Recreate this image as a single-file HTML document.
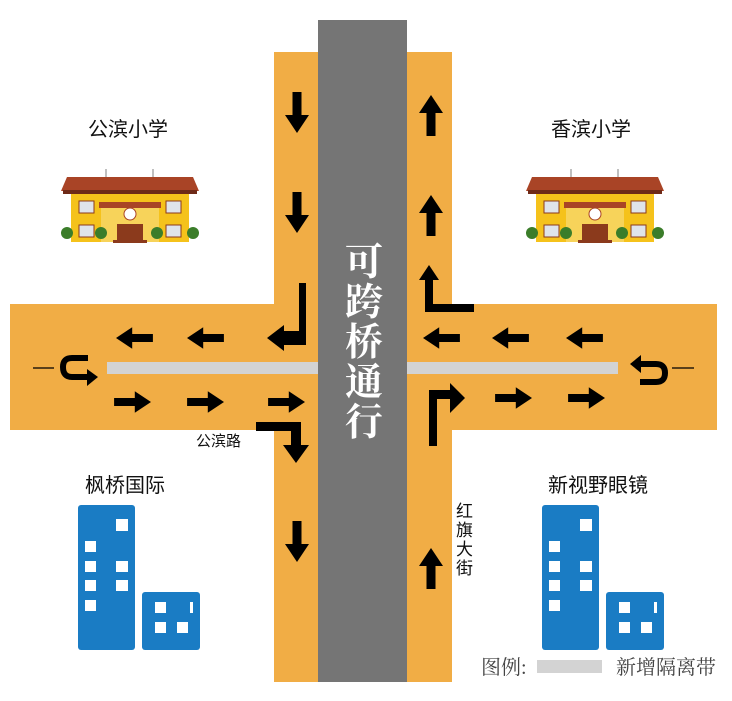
<!DOCTYPE html>
<html><head><meta charset="utf-8"><style>
html,body{margin:0;padding:0;background:#fff;width:732px;height:701px;overflow:hidden}
svg{display:block}
.l{font-family:"Liberation Sans","Noto Sans CJK SC",sans-serif;fill:#111}
.s{font-family:"Liberation Serif","Noto Serif CJK SC",serif;fill:#444}
</style></head><body>
<svg width="732" height="701" viewBox="0 0 732 701" xmlns="http://www.w3.org/2000/svg">
<defs>
 <g id="au"><polygon points="0,0 12,18 4.5,18 4.5,41 -4.5,41 -4.5,18 -12,18" fill="#000"/></g>
 <g id="school">
  <line x1="45" y1="2" x2="45" y2="34" stroke="#aaa" stroke-width="1.5"/>
  <line x1="92" y1="2" x2="92" y2="34" stroke="#aaa" stroke-width="1.5"/>
  <polygon points="6,10 132,10 138,24 0,24" fill="#a94426"/>
  <rect x="2" y="23" width="134" height="4" fill="#6e2a18"/>
  <rect x="10" y="27" width="118" height="48" fill="#f5c21b"/>
  <rect x="40" y="39" width="58" height="36" fill="#f7d35a"/>
  <rect x="38" y="35" width="62" height="6" fill="#a94426"/>
  <circle cx="69" cy="47" r="6" fill="#fff" stroke="#a94426"/>
  <rect x="56" y="57" width="26" height="17" fill="#8b3a1c"/>
  <rect x="52" y="73" width="34" height="3" fill="#8b3a1c"/>
  <rect x="18" y="34" width="15" height="12" fill="#dfe4ea" stroke="#8b3a1c"/>
  <rect x="105" y="34" width="15" height="12" fill="#dfe4ea" stroke="#8b3a1c"/>
  <rect x="18" y="58" width="15" height="12" fill="#dfe4ea" stroke="#8b3a1c"/>
  <rect x="105" y="58" width="15" height="12" fill="#dfe4ea" stroke="#8b3a1c"/>
  <circle cx="6" cy="66" r="6" fill="#3b7d2a"/><circle cx="40" cy="66" r="6" fill="#3b7d2a"/>
  <circle cx="96" cy="66" r="6" fill="#3b7d2a"/><circle cx="132" cy="66" r="6" fill="#3b7d2a"/>
 </g>
 <g id="bld" fill="#1a7cc4">
  <rect x="0" y="0" width="57" height="145" rx="3"/>
  <rect x="64" y="87" width="58" height="58" rx="3"/>
  <g fill="#fff">
   <rect x="38" y="14" width="12" height="12"/>
   <rect x="7" y="36" width="11" height="11"/><rect x="7" y="56" width="11" height="11"/><rect x="38" y="56" width="12" height="11"/>
   <rect x="7" y="75" width="11" height="11"/><rect x="38" y="75" width="12" height="11"/><rect x="7" y="95" width="11" height="11"/>
   <rect x="77" y="97" width="11" height="11"/><rect x="77" y="117" width="11" height="11"/><rect x="99" y="117" width="11" height="11"/><rect x="112" y="97" width="3" height="11"/>
  </g>
 </g>
</defs>
<rect x="274" y="52" width="178" height="630" fill="#f1ad45"/>
<rect x="10" y="304" width="707" height="126" fill="#f1ad45"/>
<rect x="318" y="20" width="89" height="662" fill="#757575"/>
<rect x="107" y="362" width="211" height="12" fill="#d3d3d3"/>
<rect x="407" y="362" width="211" height="12" fill="#d3d3d3"/>
<use href="#au" transform="translate(297,133) rotate(180)"/>
<use href="#au" transform="translate(297,233) rotate(180)"/>
<use href="#au" transform="translate(297,562) rotate(180)"/>
<use href="#au" transform="translate(431,95)"/>
<use href="#au" transform="translate(431,195)"/>
<use href="#au" transform="translate(431,548)"/>
<use href="#au" transform="translate(116,338) rotate(-90) scale(0.9,0.9)"/>
<use href="#au" transform="translate(187,338) rotate(-90) scale(0.9,0.9)"/>
<use href="#au" transform="translate(423,338) rotate(-90) scale(0.9,0.9)"/>
<use href="#au" transform="translate(492,338) rotate(-90) scale(0.9,0.9)"/>
<use href="#au" transform="translate(566,338) rotate(-90) scale(0.9,0.9)"/>
<use href="#au" transform="translate(151,402) rotate(90) scale(0.9,0.9)"/>
<use href="#au" transform="translate(224,402) rotate(90) scale(0.9,0.9)"/>
<use href="#au" transform="translate(305,402) rotate(90) scale(0.9,0.9)"/>
<use href="#au" transform="translate(532,398) rotate(90) scale(0.9,0.9)"/>
<use href="#au" transform="translate(605,398) rotate(90) scale(0.9,0.9)"/>
<polygon points="299,283 306,283 306,345 284,345 284,351 267,338 284,325 284,331 299,331" fill="#000"/>
<polygon points="256,422 301,422 301,445 309,445 296,463 283,445 291,445 291,431 256,431" fill="#000"/>
<polygon points="429,265 439,280 433,280 433,304 474,304 474,312 425,312 425,280 419,280" fill="#000"/>
<polygon points="429,446 429,390 450,390 450,383 465,398 450,413 450,399 437,399 437,446" fill="#000"/>
<line x1="33" y1="368" x2="54" y2="368" stroke="#000" stroke-width="1.2"/>
<path d="M88,358 L72,358 Q63,358 63,367 Q63,377 72,377 L88,377" fill="none" stroke="#000" stroke-width="6"/>
<polygon points="87,369 98,377 87,386" fill="#000"/>
<line x1="672" y1="368" x2="694" y2="368" stroke="#000" stroke-width="1.2"/>
<path d="M640,382 L656,382 Q665,382 665,373 Q665,364 656,364 L640,364" fill="none" stroke="#000" stroke-width="6"/>
<polygon points="641,355 630,364 641,373" fill="#000"/>
<g font-family="'Liberation Serif','Noto Serif CJK SC',serif" font-weight="bold" font-size="38" fill="#fff" text-anchor="middle">
<text x="364" y="275">可</text><text x="364" y="315">跨</text><text x="364" y="355">桥</text><text x="364" y="395">通</text><text x="364" y="435">行</text>
</g>
<text class="l" x="88" y="136" font-size="20">公滨小学</text>
<text class="l" x="551" y="136" font-size="20">香滨小学</text>
<text class="l" x="85" y="492" font-size="20">枫桥国际</text>
<text class="l" x="548" y="492" font-size="20">新视野眼镜</text>
<text class="l" x="196" y="446" font-size="15">公滨路</text>
<g class="l" font-size="17"><text x="456" y="517">红</text><text x="456" y="536">旗</text><text x="456" y="555">大</text><text x="456" y="574">街</text></g>
<use href="#school" transform="translate(61,167)"/>
<use href="#school" transform="translate(526,167)"/>
<use href="#bld" transform="translate(78,505)"/>
<use href="#bld" transform="translate(542,505)"/>
<text class="s" x="481" y="674" font-size="20">图例:</text>
<rect x="537" y="660" width="65" height="13" fill="#d3d3d3"/>
<text class="s" x="616" y="674" font-size="20">新增隔离带</text>
</svg>
</body></html>
